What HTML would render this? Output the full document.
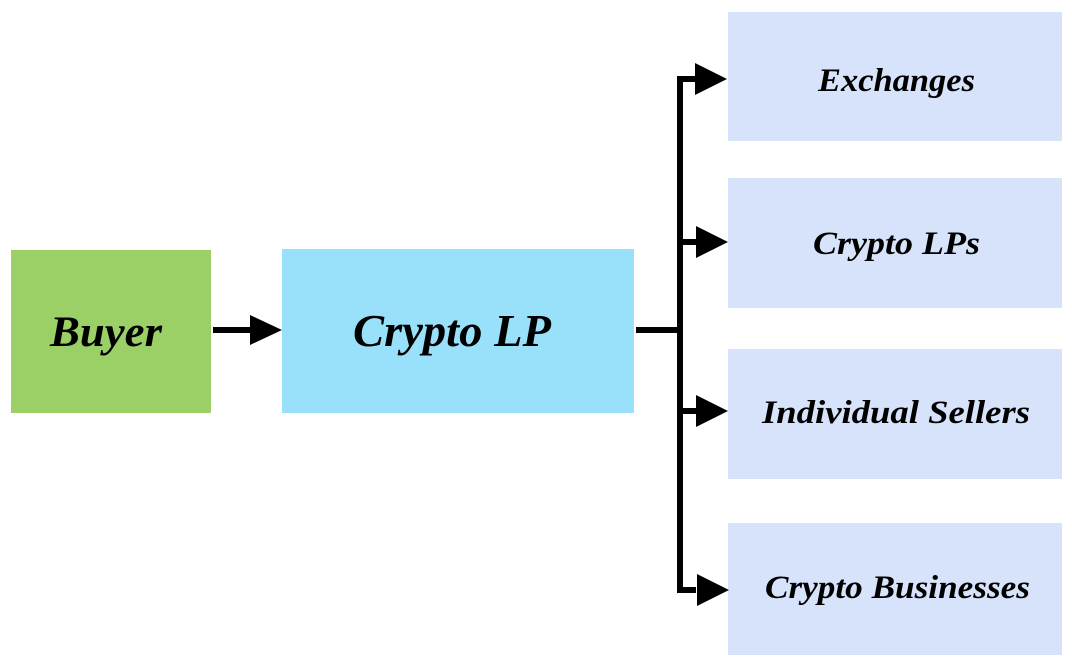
<!DOCTYPE html>
<html><head><style>html,body{margin:0;padding:0;background:#fff;width:1072px;height:668px;overflow:hidden}</style></head>
<body>
<svg width="1072" height="668" viewBox="0 0 1072 668" xmlns="http://www.w3.org/2000/svg" font-family="Liberation Serif, serif" font-weight="bold" font-style="italic" fill="#000">
<rect x="11" y="250" width="200" height="163" fill="#9bd066"/>
<rect x="282" y="249" width="352" height="164" fill="#99e1fa"/>
<rect x="728" y="12" width="334" height="129" fill="#d6e3fa"/>
<rect x="728" y="178" width="334" height="130" fill="#d6e3fa"/>
<rect x="728" y="349" width="334" height="130" fill="#d6e3fa"/>
<rect x="728" y="523" width="334" height="132" fill="#d6e3fa"/>
<g stroke="#000" stroke-width="6" fill="none">
<line x1="213" y1="330" x2="252" y2="330"/>
<line x1="636" y1="330" x2="682" y2="330"/>
<polyline points="696,79 680,79 680,590 696,590"/>
<line x1="680" y1="242" x2="696" y2="242"/>
<line x1="680" y1="411" x2="696" y2="411"/>
</g>
<polygon points="250,315 282,330 250,345"/>
<polygon points="695,63 727,79 695,95"/>
<polygon points="696,226 728,242 696,258"/>
<polygon points="696,395 728,411 696,427"/>
<polygon points="697,574 729,590 697,606"/>
<text x="50" y="346" font-size="43" textLength="112" lengthAdjust="spacingAndGlyphs">Buyer</text>
<text x="353" y="346" font-size="45" textLength="198" lengthAdjust="spacingAndGlyphs">Crypto LP</text>
<text x="818" y="91" font-size="33" textLength="157" lengthAdjust="spacingAndGlyphs">Exchanges</text>
<text x="813" y="254" font-size="33" textLength="167" lengthAdjust="spacingAndGlyphs">Crypto LPs</text>
<text x="762" y="423" font-size="33" textLength="268" lengthAdjust="spacingAndGlyphs">Individual Sellers</text>
<text x="765" y="598" font-size="33" textLength="265" lengthAdjust="spacingAndGlyphs">Crypto Businesses</text>
</svg>
</body></html>
